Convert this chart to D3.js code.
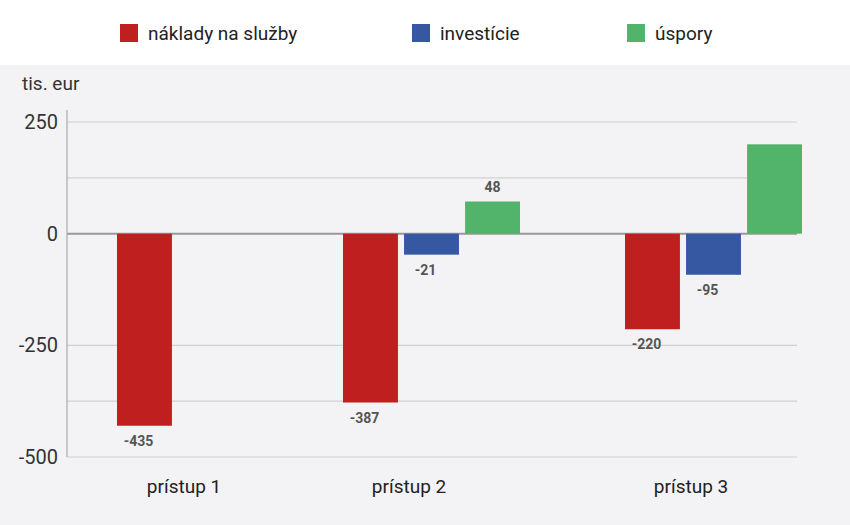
<!DOCTYPE html>
<html><head><meta charset="utf-8">
<script src="https://cdn.jsdelivr.net/npm/d3@7"></script>
<style>body{margin:0;background:#fff}svg{display:block}text{font-family:Roboto,"Noto Sans",sans-serif}</style>
</head><body><svg id="c" width="850" height="525"></svg>
<script>
const categories = ["prístup 1","prístup 2","prístup 3"];
const series = ["náklady na služby","investície","úspory"];
const colors = ["#c01f1f","#3658a3","#52b36a"];
// bar values as drawn [category][series]; null = no bar
const values = [[-430,null,null],[-378,-47,72],[-214,-92,200]];
const labels = [["-435",null,null],["-387","-21","48"],["-220","-95",null]];
const yTicks = [250,0,-250,-500];
const gridVals = [250,125,0,-250,-375,-500];
const groupStart = [117,343,625];

const svg = d3.select("#c");
svg.append("rect").attr("x",0).attr("y",65).attr("width",850).attr("height",460).attr("fill","#f3f3f6");
const y = d3.scaleLinear().domain([-500,250]).range([457,122]);
const gx = d3.scaleOrdinal().domain(categories).range(groupStart);
const sx = d3.scaleBand().domain(series).range([0,177]).paddingInner(0.1).paddingOuter(0);

svg.selectAll(".grid").data(gridVals).join("line")
 .attr("x1",67).attr("x2",797).attr("y1",d=>y(d)).attr("y2",d=>y(d))
 .attr("stroke",d=>d===0?"#999":"#cfcfd4").attr("stroke-width",d=>d===0?2:1.2);
svg.append("line").attr("x1",67).attr("x2",67).attr("y1",110).attr("y2",457).attr("stroke","#aaa").attr("stroke-width",1.2);
svg.selectAll(".yt").data(yTicks).join("text").attr("x",58).attr("y",d=>y(d)+7)
 .attr("text-anchor","end").attr("font-size",20).attr("fill","#333").text(d=>d);
svg.append("text").attr("x",22).attr("y",90).attr("font-size",19).attr("fill","#333").text("tis. eur");

categories.forEach((c,i)=>{
  series.forEach((s,j)=>{
    const v=values[i][j]; if(v==null) return;
    const x0=gx(c)+sx(s);
    svg.append("rect").attr("x",x0).attr("width",sx.bandwidth())
      .attr("y",y(Math.max(0,v))).attr("height",Math.abs(y(v)-y(0))).attr("fill",colors[j]);
    const l=labels[i][j]; if(l==null) return;
    svg.append("text").attr("x",x0+sx.bandwidth()/2-(v<0?6:0)).attr("y",v<0?y(v)+20:y(v)-10)
      .attr("text-anchor","middle").attr("font-size",14).attr("font-weight","bold").attr("fill","#555").text(l);
  });
  svg.append("text").attr("x",gx(c)+sx.step()+ (i===0?6:5)).attr("y",493).attr("text-anchor","middle")
    .attr("font-size",19).attr("fill","#222").text(c);
});

const legX=[120,412,627];
series.forEach((s,j)=>{
  svg.append("rect").attr("x",legX[j]).attr("y",24).attr("width",18).attr("height",18).attr("fill",colors[j]);
  svg.append("text").attr("x",legX[j]+28).attr("y",40).attr("font-size",19).attr("fill","#222").text(s);
});
</script></body></html>
